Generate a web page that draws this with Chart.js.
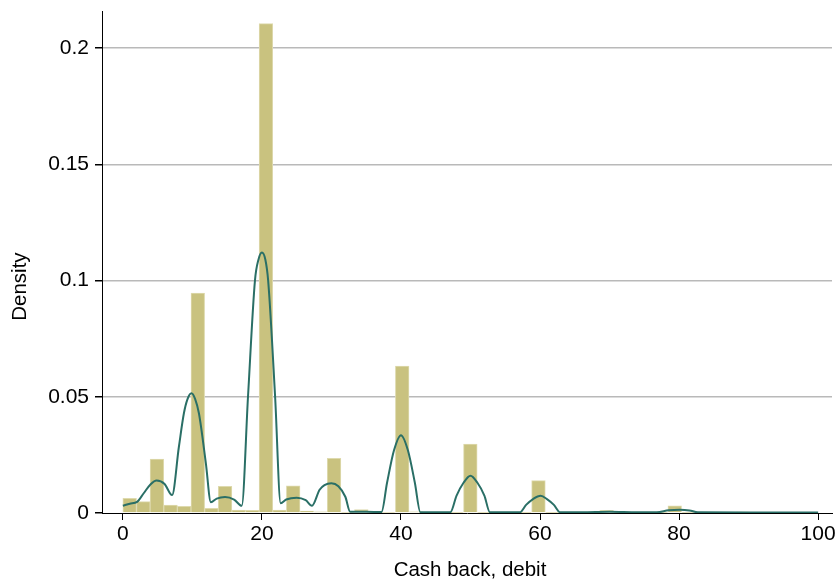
<!DOCTYPE html>
<html>
<head>
<meta charset="utf-8">
<script src="https://cdn.jsdelivr.net/npm/chart.js@4/dist/chart.umd.min.js"></script>
<style>
  body { margin: 0; background: #fff; }
</style>
</head>
<body>
<canvas id="grafica" width="838" height="579"></canvas>
<script>
// histograma: 50 clases de ancho 1.96 desde 0
const anchoClase = 1.96;
const densidadBarras = [
  0.0063, 0.0049, 0.0232, 0.0034, 0.0029, 0.0946, 0.0020, 0.0115, 0.0013, 0.0012,
  0.2106, 0.0013, 0.0117, 0.0008, 0.0005, 0.0235, 0.0003, 0.0015, 0.0003, 0.0003,
  0.0632, 0.0005, 0.0003, 0.0002, 0.0002, 0.0297, 0.0002, 0.0002, 0.0002, 0.0002,
  0.0139, 0.0002, 0.0002, 0.0002, 0.0002, 0.0011, 0.0002, 0.0002, 0.0003, 0.0002,
  0.0031, 0.0002, 0.0002, 0.0002, 0.0002, 0.0004, 0.0002, 0.0002, 0.0002, 0.0002
];

// curva kernel
const kernelX = [
  0, 1, 2.05, 3, 4, 4.85, 6, 7.08, 8.06, 8.78, 9.3, 9.87, 10.4, 10.94, 11.94, 12.66,
  13.5, 14.7, 16, 17.1, 18, 19, 19.5, 20, 20.5, 20.9, 21.9, 22.7,
  23.5, 25, 26.3, 27.2, 28.3, 29, 30, 31, 32, 32.7,
  35, 37.2, 38, 39, 40, 41, 42, 42.8,
  45, 47.1, 48, 49, 50, 51, 52, 52.8,
  55, 57.1, 58, 59, 60.1, 61, 62, 62.9,
  66, 70, 74, 76.8, 78.5, 80.1, 81.5, 82.7, 90, 100
];
const kernelY = [
  0.0031, 0.0040, 0.0048, 0.0085, 0.0124, 0.0140, 0.0125, 0.0077, 0.0285, 0.0429, 0.0490, 0.0515, 0.0490, 0.0429, 0.0214, 0.0046,
  0.0062, 0.0069, 0.0058, 0.0031, 0.0500, 0.1000, 0.1090, 0.1121, 0.1090, 0.1000, 0.0500, 0.0042,
  0.0058, 0.0066, 0.0055, 0.0031, 0.0100, 0.0120, 0.0128, 0.0115, 0.0070, 0.0005,
  0.0005, 0.0004, 0.0130, 0.0270, 0.0335, 0.0270, 0.0130, 0.0003,
  0.0003, 0.0003, 0.0075, 0.0130, 0.0160, 0.0130, 0.0075, 0.0003,
  0.0003, 0.0003, 0.0035, 0.0060, 0.0074, 0.0060, 0.0035, 0.0003,
  0.0003, 0.0005, 0.0003, 0.0003, 0.0012, 0.0014, 0.0011, 0.0003, 0.0002, 0.0002
];

const ticksX = [0, 20, 40, 60, 80, 100];
const ticksY = [0, 0.05, 0.1, 0.15, 0.2];
const tituloX = "Cash back, debit";
const tituloY = "Density";

const fuente = { family: "'Liberation Sans', Arial, sans-serif", size: 21 };

const barras = densidadBarras.map((d, i) => ({ x: anchoClase * i + anchoClase / 2, y: d }));
const curva = kernelX.map((x, i) => ({ x: x, y: kernelY[i] }));

// titulos de ejes dibujados a mano para ubicarlos como en Stata
const titulos = {
  id: "titulos",
  afterDraw(chart) {
    const ctx = chart.ctx;
    const area = chart.chartArea;
    const y = chart.scales.y;
    ctx.save();
    ctx.fillStyle = "#000";
    ctx.font = "20.5px 'Liberation Sans', Arial, sans-serif";
    ctx.textAlign = "center";
    ctx.textBaseline = "alphabetic";
    ctx.fillText(tituloX, (area.left + area.right) / 2 + 3, 576);
    ctx.translate(26, (y.getPixelForValue(0) + y.getPixelForValue(0.2)) / 2 + 6);
    ctx.rotate(-Math.PI / 2);
    ctx.fillText(tituloY, 0, 0);
    ctx.restore();
  },
};

new Chart(document.getElementById("grafica"), {
  type: "bar",
  data: {
    datasets: [
      {
        type: "line",
        data: curva,
        borderColor: "#2a6f66",
        borderWidth: 2,
        pointRadius: 0,
        cubicInterpolationMode: "monotone",
        order: 0,
      },
      {
        type: "bar",
        data: barras,
        backgroundColor: "#c9c27f",
        borderColor: "#dedaae",
        borderWidth: 1,
        barPercentage: 1,
        categoryPercentage: 1,
        order: 1,
      },
    ],
  },
  plugins: [titulos],
  options: {
    responsive: false,
    animation: false,
    devicePixelRatio: 1,
    layout: { padding: { left: 0, right: 6, top: 11, bottom: 0 } },
    plugins: { legend: { display: false }, tooltip: { enabled: false } },
    scales: {
      x: {
        type: "linear",
        min: -3,
        max: 102,
        offset: false,
        afterBuildTicks: (s) => { s.ticks = ticksX.map((v) => ({ value: v })); },
        afterFit: (s) => { s.height = 66; s.paddingLeft = 0; s.paddingRight = 0; },
        grid: { drawOnChartArea: false, offset: false, tickLength: 7, tickColor: "#000" },
        border: { color: "#000", width: 1 },
        ticks: { color: "#000", font: fuente, padding: 2, maxRotation: 0, autoSkip: false },
      },
      y: {
        min: 0,
        max: 0.216,
        afterBuildTicks: (s) => { s.ticks = ticksY.map((v) => ({ value: v })); },
        afterFit: (s) => { s.width = 102; s.paddingTop = 0; s.paddingBottom = 0; },
        grid: {
          color: (c) => (c.tick && c.tick.value === 0 ? "rgba(0,0,0,0)" : "#b9b9b9"),
          lineWidth: 1.5,
          tickLength: 7,
          tickColor: "#000",
        },
        border: { color: "#000", width: 1 },
        ticks: {
          color: "#000",
          font: fuente,
          padding: 6,
          autoSkip: false,
          callback: (v) => String(+v.toFixed(2)),
        },
      },
    },
  },
});
</script>
</body>
</html>
